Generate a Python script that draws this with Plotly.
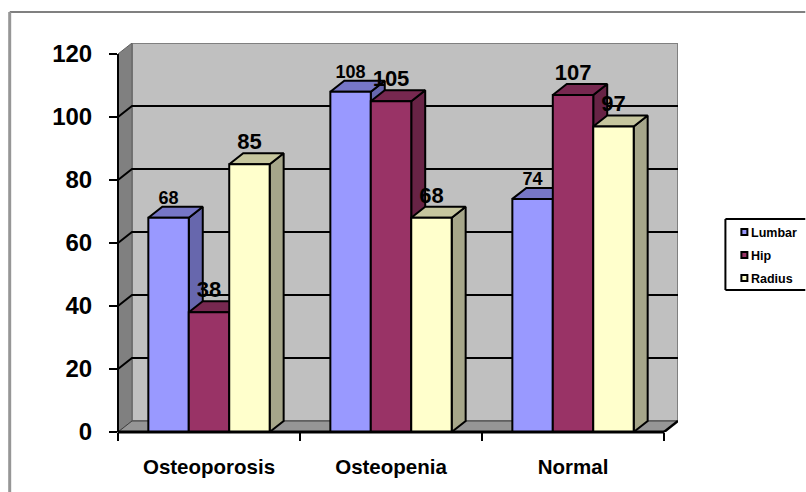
import plotly.graph_objects as go

categories = ["Osteoporosis", "Osteopenia", "Normal"]
series_names = ["Lumbar", "Hip", "Radius"]
lumbar = [68, 108, 74]
hip = [38, 105, 107]
radius = [85, 68, 97]
series_values = [lumbar, hip, radius]
front_colors = ["#9999FF", "#993366", "#FFFFCC"]
top_colors = ["#7676C6", "#772850", "#C6C69E"]
side_colors = ["#6767AD", "#672345", "#A6A68A"]
label_sizes = [18, 22, 22]
y_ticks = [0, 20, 40, 60, 80, 100, 120]

W, H = 806, 492
L, R, T, B = 117.5, 678.5, 43, 432  # plot box in pixels
DX = 14 / (547 / 3)                 # depth in category units
DY = 11 / (378 / 120)               # depth in value units
xr = [-0.5, 2.5 + DX]
yr = [0, 120 + DY]
BAR = 2 / 9
LBL_OFF = [18.5 / 3.15, 20.5 / 3.15, 20.5 / 3.15]

fig = go.Figure()


def poly(xs, ys, fill, line="black", lw=2):
    fig.add_trace(go.Scatter(
        x=xs + xs[:1], y=ys + ys[:1], mode="lines", fill="toself", fillcolor=fill,
        line=dict(color=line, width=lw), hoverinfo="skip", showlegend=False,
        xaxis="x", yaxis="y"))


def segs(xs, ys, color, lw):
    fig.add_trace(go.Scatter(
        x=xs, y=ys, mode="lines", line=dict(color=color, width=lw),
        hoverinfo="skip", showlegend=False, xaxis="x", yaxis="y"))


x0, x1 = -0.5, 2.5
# walls and floor
poly([x0 + DX, x1 + DX, x1 + DX, x0 + DX], [DY, DY, 120 + DY, 120 + DY], "#C0C0C0", "#808080", 2)
poly([x0, x0 + DX, x0 + DX, x0], [0, DY, 120 + DY, 120], "#808080", "#606060", 1)
poly([x0, x0 + DX, x1 + DX, x1], [0, DY, DY, 0], "#969696", "#404040", 1)
# gridlines
for v in y_ticks[1:-1]:
    segs([x0, x0 + DX, x1 + DX], [v, v + DY, v + DY], "black", 2)
segs([x1, x1 + DX], [0, DY], "black", 2.5)

# top and side faces, painted series by series
for s, vals in enumerate(series_values):
    for i, v in enumerate(vals):
        l = i - 1 / 3 + s * BAR
        r = l + BAR
        poly([r, r, r + DX, r + DX], [0, v, v + DY, DY], side_colors[s])
        poly([l, r, r + DX, l + DX], [v, v, v + DY, v + DY], top_colors[s])

# front faces
for s, vals in enumerate(series_values):
    fig.add_trace(go.Bar(
        x=[0, 1, 2], y=vals, name=series_names[s], xaxis="x2", yaxis="y2",
        marker=dict(color=front_colors[s], line=dict(color="black", width=2)),
        showlegend=False))

# data labels
for s, vals in enumerate(series_values):
    fig.add_trace(go.Scatter(
        x=[i - 1 / 3 + (s + 0.5) * BAR for i in range(3)],
        y=[v + LBL_OFF[s] for v in vals],
        text=[str(v) for v in vals], mode="text", textposition="middle center",
        textfont=dict(family="Liberation Sans", size=label_sizes[s], color="black", weight="bold"),
        xaxis="x2", yaxis="y2", showlegend=False, hoverinfo="skip", cliponaxis=False))

pw, ph = R - L, B - T


def px(x):
    return (x - L) / pw


def py(y):
    return (B - y) / ph


shapes = [
    # outer frame
    dict(type="line", xref="paper", yref="paper", x0=px(9), x1=px(806), y0=py(12), y1=py(12),
         line=dict(color="#808080", width=2)),
    dict(type="line", xref="paper", yref="paper", x0=px(9), x1=px(9), y0=py(12), y1=py(492),
         line=dict(color="#969696", width=3)),
    # axis lines
    dict(type="line", xref="paper", yref="paper", x0=px(117), x1=px(665), y0=0, y1=0,
         line=dict(color="black", width=3)),
    dict(type="line", xref="paper", yref="paper", x0=0, x1=0, y0=0, y1=py(54),
         line=dict(color="black", width=2)),
    # legend frame
    dict(type="line", xref="paper", yref="paper", x0=px(726), x1=px(806), y0=py(219), y1=py(219),
         line=dict(color="black", width=2)),
    dict(type="line", xref="paper", yref="paper", x0=px(726), x1=px(806), y0=py(290), y1=py(290),
         line=dict(color="black", width=2)),
    dict(type="line", xref="paper", yref="paper", x0=px(726), x1=px(726), y0=py(219), y1=py(290),
         line=dict(color="black", width=2)),
]
annotations = []
for s, name in enumerate(series_names):
    yc = 232 + s * 23
    shapes.append(dict(type="rect", xref="paper", yref="paper", x0=px(742), x1=px(748),
                       y0=py(yc - 3), y1=py(yc + 3), fillcolor=front_colors[s],
                       line=dict(color="black", width=2)))
    annotations.append(dict(xref="paper", yref="paper", x=px(750), y=py(yc + 1), text=name,
                            showarrow=False, xanchor="left", yanchor="middle",
                            font=dict(family="Liberation Sans", size=12.5, color="black", weight="bold")))

fig.update_layout(
    width=W, height=H, autosize=False, showlegend=False,
    margin=dict(l=L, r=W - R, t=T, b=H - B, pad=0),
    paper_bgcolor="white", plot_bgcolor="rgba(0,0,0,0)",
    barmode="group", bargap=1 / 3, bargroupgap=0,
    shapes=shapes, annotations=annotations,
    xaxis=dict(range=xr, tickvals=[-0.5, 0.5, 1.5, 2.5], ticktext=["", "", "", ""],
               ticks="outside", ticklen=8, tickwidth=2, tickcolor="black",
               showgrid=False, zeroline=False, showline=False),
    yaxis=dict(range=yr, tickvals=y_ticks, ticks="outside", ticklen=8, tickwidth=2, tickcolor="black",
               showgrid=False, zeroline=False, showline=False, ticklabelstandoff=12,
               tickfont=dict(family="Liberation Sans", size=24, color="black", weight="bold")),
    xaxis2=dict(range=xr, overlaying="x", anchor="y2", side="bottom",
                tickvals=[0, 1, 2], ticktext=categories, ticks="", showgrid=False,
                zeroline=False, showline=False, ticklabelstandoff=20,
                tickfont=dict(family="Liberation Sans", size=20.5, color="black", weight="bold")),
    yaxis2=dict(range=yr, overlaying="y", anchor="x2", side="left", showticklabels=False,
                ticks="", showgrid=False, zeroline=False, showline=False),
)
fig.write_html("out.html", config={"displayModeBar": False},
               post_script="document.body.style.margin='0';document.body.style.overflow='hidden';window.dispatchEvent(new Event('resize'));")
